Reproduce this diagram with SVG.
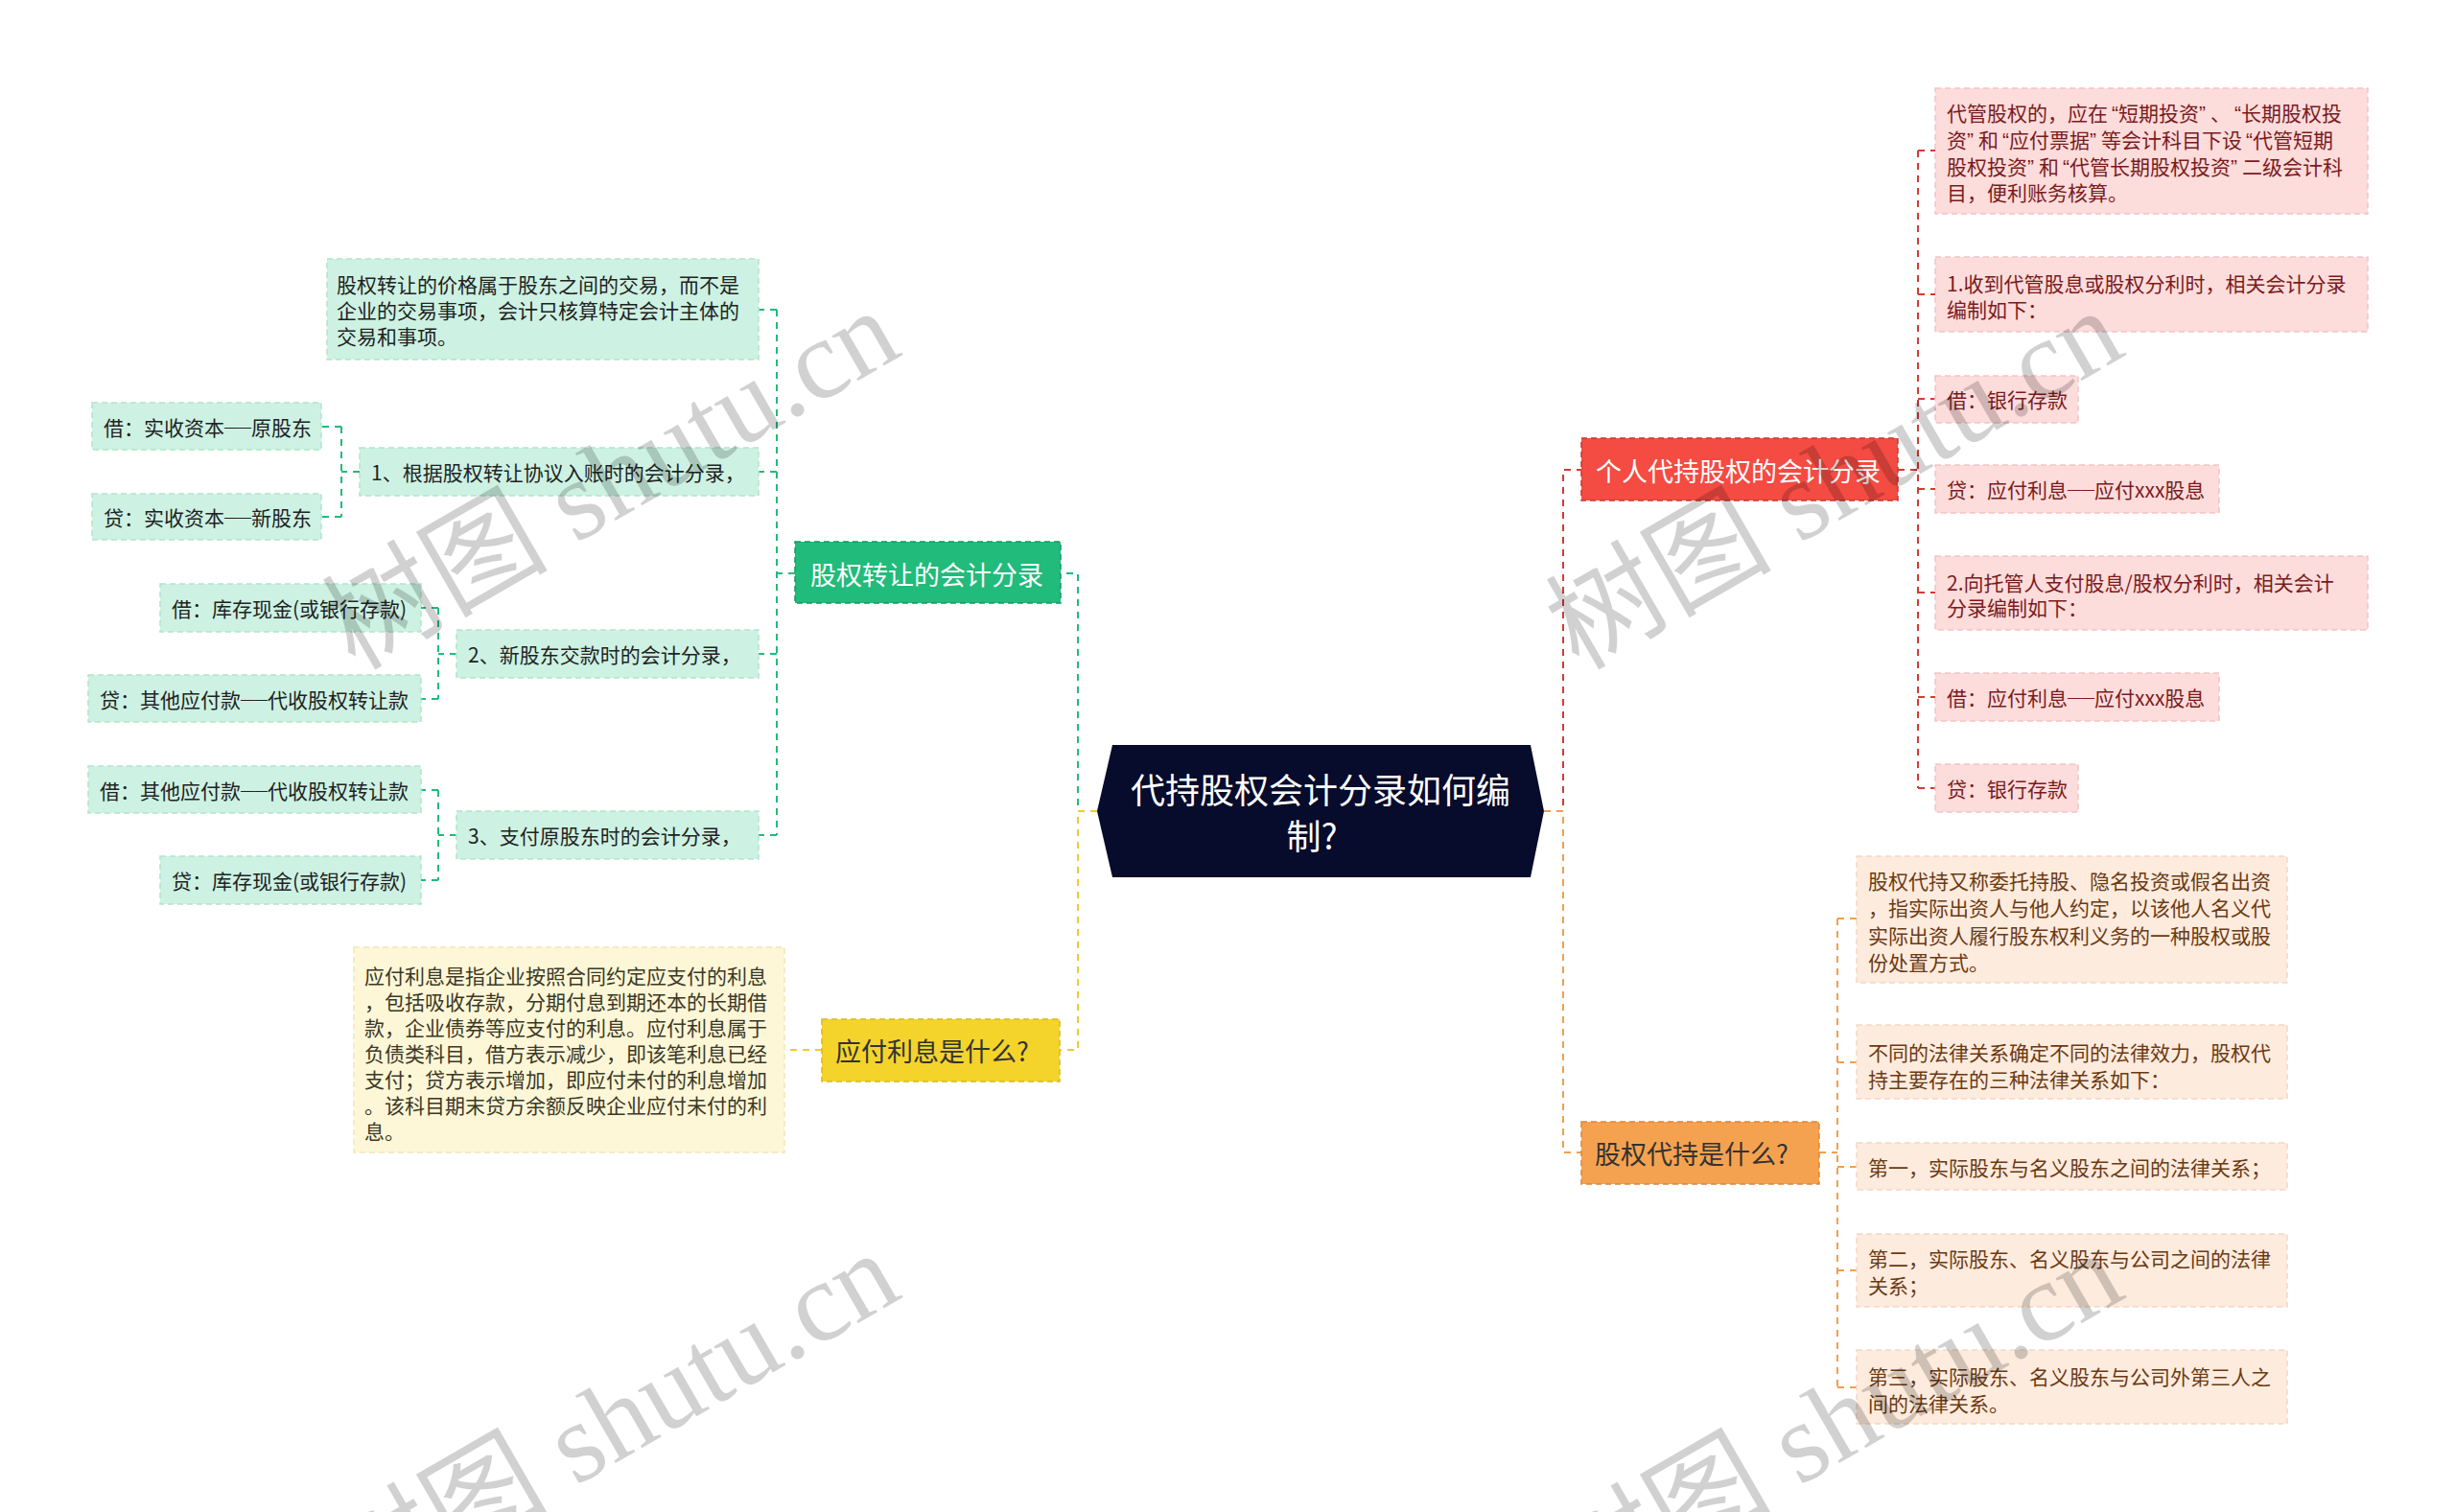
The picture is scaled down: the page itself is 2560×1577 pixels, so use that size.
<svg xmlns="http://www.w3.org/2000/svg" width="2560" height="1577" viewBox="0 0 2560 1577">
<style>
text { font-family: "Noto Sans CJK SC", "Noto Sans", sans-serif; dominant-baseline: central; }
.s { font-size: 21px; }
.top { font-size: 27px; }
.ctr { font-size: 36px; fill: #ffffff; }
.dash { font-family: "Liberation Sans", sans-serif; font-size: 14px; }
.qo { font-family: "Liberation Sans", sans-serif; }
.qc { font-family: "Liberation Sans", sans-serif; letter-spacing: 5px; }
.gN { fill: #21bb7b; stroke: #149a62; stroke-width: 1.5; stroke-dasharray: 6 4; }
.gL { fill: #cdf2e3; stroke: #b3e3cd; stroke-width: 1.5; stroke-dasharray: 6 4; }
.gT { fill: #222222; }
.rN { fill: #f44b42; stroke: #c7362f; stroke-width: 1.5; stroke-dasharray: 6 4; }
.rL { fill: #fddcdc; stroke: #f2c3c3; stroke-width: 1.5; stroke-dasharray: 6 4; }
.rT { fill: #7a1b1b; }
.oN { fill: #f5a250; stroke: #d9863a; stroke-width: 1.5; stroke-dasharray: 6 4; }
.oL { fill: #fdebde; stroke: #f3d8c4; stroke-width: 1.5; stroke-dasharray: 6 4; }
.oT { fill: #6b3a12; }
.yN { fill: #f4d42a; stroke: #d8b81e; stroke-width: 1.5; stroke-dasharray: 6 4; }
.yL { fill: #fdf7d7; stroke: #f0e6bb; stroke-width: 1.5; stroke-dasharray: 6 4; }
.yT { fill: #3b3826; }
.dk { fill: #333333; }
.wt { fill: #ffffff; }
.c { fill: none; stroke-width: 2; stroke-dasharray: 7 6; }
.cg { stroke: #21bb7b; }
.cr { stroke: #d63a33; }
.co { stroke: #f0a050; }
.cy { stroke: #efcc2c; }
.wm { font-family: "Liberation Serif", "Noto Sans CJK SC", serif; font-size: 118px; fill: #000000; fill-opacity: 0.18; dominant-baseline: alphabetic; }
</style>

<g id="connectors">
  <path class="c cg" d="M1144,846 H1124 V598 H1106"/>
  <path class="c cy" d="M1144,846 H1124 V1095 H1105"/>
  <path class="c cr" d="M1610,846 H1630 V490 H1649"/>
  <path class="c co" d="M1610,846 H1630 V1202 H1649"/>
  <path class="c cg" d="M829,598 H810 M810,323 V871 M810,323 H791 M810,492 H791 M810,682 H791 M810,871 H791"/>
  <path class="c cg" d="M375,492 H356 M356,445 V539 M356,445 H335 M356,539 H335"/>
  <path class="c cg" d="M476,682 H457 M457,634 V729 M457,634 H439 M457,729 H439"/>
  <path class="c cg" d="M476,871 H457 M457,824 V918 M457,824 H439 M457,918 H439"/>
  <path class="c cy" d="M857,1095 H818"/>
  <path class="c cr" d="M1979,490 H2000 M2000,157 V822 M2000,157 H2018 M2000,307 H2018 M2000,416 H2018 M2000,510 H2018 M2000,618 H2018 M2000,727 H2018 M2000,822 H2018"/>
  <path class="c co" d="M1897,1202 H1916 M1916,958 V1447 M1916,958 H1936 M1916,1108 H1936 M1916,1217 H1936 M1916,1325 H1936 M1916,1447 H1936"/>
</g>

<g id="center">
  <polygon points="1144,846 1160,777 1596,777 1610,846 1596,915 1160,915" fill="#070b2c"/>
  <text class="ctr" x="1377" y="822" text-anchor="middle">代持股权会计分录如何编</text>
  <text class="ctr" x="1368" y="870" text-anchor="middle">制?</text>
</g>

<g id="n-gq">
  <rect class="gN" x="829" y="565" width="277" height="64"/>
  <text class="top wt" x="845" y="598">股权转让的会计分录</text>
</g>
<g id="n-gq-note">
  <rect class="gL" x="341" y="270" width="450" height="105"/>
  <text class="s gT" x="351" y="296">股权转让的价格属于股东之间的交易，而不是</text>
  <text class="s gT" x="351" y="323">企业的交易事项，会计只核算特定会计主体的</text>
  <text class="s gT" x="351" y="350">交易和事项。</text>
</g>
<g id="n-gq-1">
  <rect class="gL" x="375" y="467" width="416" height="50"/>
  <text class="s gT" x="387" y="492">1、根据股权转让协议入账时的会计分录，</text>
</g>
<g id="n-gq-1a">
  <rect class="gL" x="96" y="420" width="239" height="49"/>
  <text class="s gT" x="108" y="445">借：实收资本<tspan class="dash">——</tspan>原股东</text>
</g>
<g id="n-gq-1b">
  <rect class="gL" x="96" y="515" width="239" height="48"/>
  <text class="s gT" x="108" y="539">贷：实收资本<tspan class="dash">——</tspan>新股东</text>
</g>
<g id="n-gq-2">
  <rect class="gL" x="476" y="657" width="315" height="50"/>
  <text class="s gT" x="488" y="682">2、新股东交款时的会计分录，</text>
</g>
<g id="n-gq-2a">
  <rect class="gL" x="167" y="609" width="272" height="50"/>
  <text class="s gT" x="179" y="634">借：库存现金(或银行存款)</text>
</g>
<g id="n-gq-2b">
  <rect class="gL" x="92" y="704" width="347" height="49"/>
  <text class="s gT" x="104" y="729">贷：其他应付款<tspan class="dash">——</tspan>代收股权转让款</text>
</g>
<g id="n-gq-3">
  <rect class="gL" x="476" y="846" width="315" height="50"/>
  <text class="s gT" x="488" y="871">3、支付原股东时的会计分录，</text>
</g>
<g id="n-gq-3a">
  <rect class="gL" x="92" y="799" width="347" height="49"/>
  <text class="s gT" x="104" y="824">借：其他应付款<tspan class="dash">——</tspan>代收股权转让款</text>
</g>
<g id="n-gq-3b">
  <rect class="gL" x="167" y="893" width="272" height="50"/>
  <text class="s gT" x="179" y="918">贷：库存现金(或银行存款)</text>
</g>

<g id="n-yf">
  <rect class="yN" x="857" y="1063" width="248" height="65"/>
  <text class="top dk" x="871" y="1095">应付利息是什么?</text>
</g>
<g id="n-yf-note">
  <rect class="yL" x="369" y="988" width="449" height="214"/>
  <text class="s yT" x="380" y="1017">应付利息是指企业按照合同约定应支付的利息</text>
  <text class="s yT" x="380" y="1044">，包括吸收存款，分期付息到期还本的长期借</text>
  <text class="s yT" x="380" y="1071">款，企业债券等应支付的利息。应付利息属于</text>
  <text class="s yT" x="380" y="1098">负债类科目，借方表示减少，即该笔利息已经</text>
  <text class="s yT" x="380" y="1125">支付；贷方表示增加，即应付未付的利息增加</text>
  <text class="s yT" x="380" y="1152">。该科目期末贷方余额反映企业应付未付的利</text>
  <text class="s yT" x="380" y="1179">息。</text>
</g>

<g id="n-gr">
  <rect class="rN" x="1649" y="457" width="330" height="65"/>
  <text class="top wt" x="1664" y="490">个人代持股权的会计分录</text>
</g>
<g id="n-gr-note">
  <rect class="rL" x="2018" y="92" width="451" height="131"/>
  <text class="s rT" x="2030" y="117">代管股权的，应在<tspan class="qo" dx="4">“</tspan>短期投资<tspan class="qc">”</tspan>、<tspan class="qo" dx="4">“</tspan>长期股权投</text>
  <text class="s rT" x="2030" y="145">资<tspan class="qc">”</tspan>和<tspan class="qo" dx="4">“</tspan>应付票据<tspan class="qc">”</tspan>等会计科目下设<tspan class="qo" dx="4">“</tspan>代管短期</text>
  <text class="s rT" x="2030" y="173">股权投资<tspan class="qc">”</tspan>和<tspan class="qo" dx="4">“</tspan>代管长期股权投资<tspan class="qc">”</tspan>二级会计科</text>
  <text class="s rT" x="2030" y="200">目，便利账务核算。</text>
</g>
<g id="n-gr-1">
  <rect class="rL" x="2018" y="268" width="451" height="78"/>
  <text class="s rT" x="2030" y="295">1.收到代管股息或股权分利时，相关会计分录</text>
  <text class="s rT" x="2030" y="322">编制如下：</text>
</g>
<g id="n-gr-2">
  <rect class="rL" x="2018" y="392" width="149" height="49"/>
  <text class="s rT" x="2030" y="416">借：银行存款</text>
</g>
<g id="n-gr-3">
  <rect class="rL" x="2018" y="485" width="296" height="50"/>
  <text class="s rT" x="2030" y="510">贷：应付利息<tspan class="dash">——</tspan>应付xxx股息</text>
</g>
<g id="n-gr-4">
  <rect class="rL" x="2018" y="580" width="451" height="77"/>
  <text class="s rT" x="2030" y="607">2.向托管人支付股息/股权分利时，相关会计</text>
  <text class="s rT" x="2030" y="633">分录编制如下：</text>
</g>
<g id="n-gr-5">
  <rect class="rL" x="2018" y="702" width="296" height="50"/>
  <text class="s rT" x="2030" y="727">借：应付利息<tspan class="dash">——</tspan>应付xxx股息</text>
</g>
<g id="n-gr-6">
  <rect class="rL" x="2018" y="797" width="149" height="50"/>
  <text class="s rT" x="2030" y="822">贷：银行存款</text>
</g>

<g id="n-dc">
  <rect class="oN" x="1649" y="1170" width="248" height="65"/>
  <text class="top dk" x="1663" y="1202">股权代持是什么?</text>
</g>
<g id="n-dc-note">
  <rect class="oL" x="1936" y="893" width="449" height="132"/>
  <text class="s oT" x="1948" y="918">股权代持又称委托持股、隐名投资或假名出资</text>
  <text class="s oT" x="1948" y="946">，指实际出资人与他人约定，以该他人名义代</text>
  <text class="s oT" x="1948" y="975">实际出资人履行股东权利义务的一种股权或股</text>
  <text class="s oT" x="1948" y="1003">份处置方式。</text>
</g>
<g id="n-dc-1">
  <rect class="oL" x="1936" y="1069" width="449" height="77"/>
  <text class="s oT" x="1948" y="1097">不同的法律关系确定不同的法律效力，股权代</text>
  <text class="s oT" x="1948" y="1125">持主要存在的三种法律关系如下：</text>
</g>
<g id="n-dc-2">
  <rect class="oL" x="1936" y="1192" width="449" height="49"/>
  <text class="s oT" x="1948" y="1217">第一，实际股东与名义股东之间的法律关系；</text>
</g>
<g id="n-dc-3">
  <rect class="oL" x="1936" y="1287" width="449" height="76"/>
  <text class="s oT" x="1948" y="1312">第二，实际股东、名义股东与公司之间的法律</text>
  <text class="s oT" x="1948" y="1340">关系；</text>
</g>
<g id="n-dc-4">
  <rect class="oL" x="1936" y="1408" width="449" height="77"/>
  <text class="s oT" x="1948" y="1435">第三，实际股东、名义股东与公司外第三人之</text>
  <text class="s oT" x="1948" y="1463">间的法律关系。</text>
</g>

<g id="watermarks">
  <text class="wm" transform="translate(370,700) rotate(-30)">树图 shutu.cn</text>
  <text class="wm" transform="translate(1646,700) rotate(-30)">树图 shutu.cn</text>
  <text class="wm" transform="translate(370,1683) rotate(-30)">树图 shutu.cn</text>
  <text class="wm" transform="translate(1646,1683) rotate(-30)">树图 shutu.cn</text>
</g>
</svg>
